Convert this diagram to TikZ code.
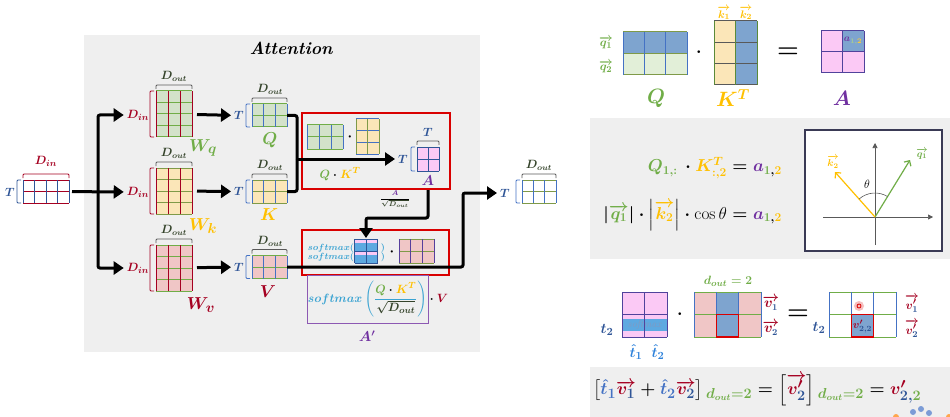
\documentclass[tikz,border=0pt]{standalone}
\usepackage{amsmath,bm}
\usetikzlibrary{arrows.meta,calc}

\definecolor{cgreen}{HTML}{70AD47}
\definecolor{cdgreen}{HTML}{34432A}
\definecolor{cyel}{HTML}{FFC000}
\definecolor{cred}{HTML}{A50021}
\definecolor{cblue}{HTML}{2F5597}
\definecolor{cline}{HTML}{4472C4}
\definecolor{cpurp}{HTML}{7030A0}
\definecolor{ccyan}{HTML}{3AA3D2}
\definecolor{fgreen}{HTML}{D3E2CA}
\definecolor{fyel}{HTML}{FBE6B8}
\definecolor{fpink}{HTML}{F0C6C6}
\definecolor{fmag}{HTML}{FBC9F5}
\definecolor{fblue}{HTML}{7EA4CF}
\definecolor{sblue}{HTML}{5DA9E1}
\definecolor{lgreen}{HTML}{E2EFD8}
\definecolor{boxred}{HTML}{D90000}
\definecolor{panel}{HTML}{EFEFEF}
\definecolor{brgray}{HTML}{595959}
\definecolor{olive}{HTML}{7F9A48}
\definecolor{navy}{HTML}{3A3A55}

\tikzset{
  arr/.style={line width=3pt, rounded corners=2pt, -{Triangle[length=10pt,width=13pt]}},
  conn/.style={line width=3pt, rounded corners=2pt},
  mtx/.style={draw=none, inner sep=0pt, outer sep=0pt},
  brk/.style={line width=0.8pt, rounded corners=1pt},
  lbl/.style={inner sep=0pt, font=\boldmath\fontsize{#1}{#1}\selectfont},
  lbl/.default=10,
  plain/.style={inner sep=0pt, font=\fontsize{#1}{#1}\selectfont},
  plain/.default=10,
  redbox/.style={draw=boxred, line width=2pt, inner sep=0pt},
}

% grid lines of a matrix node: name, width, height, cols, rows, vertical colour, horizontal colour
\newcommand{\gridlines}[7]{%
  \begin{scope}[shift={(#1.north west)}]
    \foreach \ii in {0,...,#5} \draw[#7, line width=1pt] (0,{\ii*#3/#5}) -- (#2,{\ii*#3/#5});
    \foreach \jj in {0,...,#4} \draw[#6, line width=1pt] ({\jj*#2/#4},0) -- ({\jj*#2/#4},#3);
  \end{scope}}
% filled matrix node with its grid: name, centre, width, height, cols, rows, fill, vertical colour, horizontal colour
\newcommand{\gmat}[9]{%
  \node[mtx, fill=#7, minimum width=#3pt, minimum height=#4pt] (#1) at (#2) {};
  \gridlines{#1}{#3}{#4}{#5}{#6}{#8}{#9}}
% brackets above and to the left of a matrix
\newcommand{\topbr}[2]{\draw[brk,#2] ([yshift=2pt]#1.north west) -- ([yshift=6pt]#1.north west) -- ([yshift=6pt]#1.north east) -- ([yshift=2pt]#1.north east);}
\newcommand{\leftbr}[2]{\draw[brk,#2] ([xshift=-2pt]#1.north west) -- ([xshift=-6pt]#1.north west) -- ([xshift=-6pt]#1.south west) -- ([xshift=-2pt]#1.south west);}

\begin{document}
\begin{tikzpicture}[x=1pt,y=-1pt]
\useasboundingbox (0,0) rectangle (950,417);
\fill[white] (0,0) rectangle (950,417);
\fill[panel] (84,35) rectangle (480,352);
\fill[panel] (590,118) rectangle (950,259);
\fill[panel] (590,367) rectangle (950,417);

\node[font=\bfseries\itshape\fontsize{17.5}{17.5}\selectfont, inner sep=0pt] (title) at (291,48) {Attention};

% ---------- input tokens ----------
\gmat{X}{46,191.5}{46}{23}{4}{2}{white}{cblue}{cred}
\topbr{X}{cred}
\leftbr{X}{cblue}
\node[lbl=12.5, text=cred] (dinx) at (46,161) {$D_{in}$};
\node[lbl=12, text=cblue] (tx) at (10,192) {$T$};

% ---------- query branch ----------
\gmat{Wq}{174,114}{36}{46}{3}{4}{fgreen}{cred}{cgreen}
\topbr{Wq}{brgray}
\leftbr{Wq}{cred}
\node[lbl=12, text=cdgreen] (dwq) at (174,76) {$D_{out}$};
\node[lbl=12.5, text=cred] (dinq) at (138,115) {$D_{in}$};
\node[lbl=19, text=cgreen] (wql) at (203,148) {$W_q$};

\gmat{Q}{269.5,115.5}{35}{23}{3}{2}{fgreen}{cline}{cgreen}
\topbr{Q}{brgray}
\leftbr{Q}{cline}
\node[lbl=12, text=cblue] (tq) at (239,115.5) {$T$};
\node[lbl=12, text=cdgreen] (dq) at (270,89) {$D_{out}$};
\node[lbl=18, text=cgreen] (ql) at (270,140) {$Q$};

% ---------- key branch ----------
\gmat{Wk}{174,191}{36}{46}{3}{4}{fyel}{cred}{olive}
\topbr{Wk}{brgray}
\leftbr{Wk}{cred}
\node[lbl=12, text=cdgreen] (dwk) at (174,153) {$D_{out}$};
\node[lbl=12.5, text=cred] (dink) at (138,192) {$D_{in}$};
\node[lbl=19, text=cyel] (wkl) at (203,226) {$W_k$};

\gmat{K}{269.5,191.5}{35}{23}{3}{2}{fyel}{cline}{olive}
\topbr{K}{brgray}
\leftbr{K}{cline}
\node[lbl=12, text=cblue] (tk) at (239,191.5) {$T$};
\node[lbl=12, text=cdgreen] (dk) at (270,165) {$D_{out}$};
\node[lbl=18, text=cyel] (kl) at (269,215) {$K$};

% ---------- value branch ----------
\gmat{Wv}{174,268}{36}{46}{3}{4}{fpink}{cred}{cgreen}
\topbr{Wv}{brgray}
\leftbr{Wv}{cred}
\node[lbl=12, text=cdgreen] (dwv) at (174,230) {$D_{out}$};
\node[lbl=12.5, text=cred] (dinv) at (138,268) {$D_{in}$};
\node[lbl=19, text=cred] (wvl) at (201,305) {$W_v$};

\gmat{V}{269.5,267}{35}{23}{3}{2}{fpink}{cline}{cgreen}
\topbr{V}{brgray}
\leftbr{V}{cline}
\node[lbl=12, text=cblue] (tv) at (239,267) {$T$};
\node[lbl=12, text=cdgreen] (dv) at (270,241) {$D_{out}$};
\node[lbl=18, text=cred] (vl) at (268,292) {$V$};

% ---------- input fan-out ----------
\coordinate (j) at (98,192);
\draw[arr, shorten <=3pt, shorten >=3pt] (X) -- (dink);
\draw[arr, shorten >=3pt] (j) |- (dinq);
\draw[arr, shorten >=3pt] (j) |- (dinv);
\draw[arr, shorten <=5pt, shorten >=3pt] (Wq) -- (tq);
\draw[arr, shorten <=5pt, shorten >=3pt] (Wk) -- (tk);
\draw[arr, shorten <=5pt, shorten >=3pt] (Wv) -- (tv);

% ---------- scores Q K^T ----------
\node[redbox, minimum width=148pt, minimum height=76pt] (rb1) at (376,151) {};
\gmat{Qs}{325,137}{36}{24}{3}{2}{fgreen}{cline}{cgreen}
\node[lbl=14] (dot1) at (350,137) {$\cdot$};
\gmat{Ks}{367.5,136.5}{23}{35}{2}{3}{fyel}{olive}{cline}
\node[lbl=13] (qkl) at (340,174) {$\color{cgreen}Q\color{black}\cdot\color{cyel}K^T$};

\gmat{A}{428,159}{22}{24}{2}{2}{fmag}{cblue}{cblue}
\topbr{A}{brgray}
\leftbr{A}{cline}
\node[lbl=12, text=cblue] (ta) at (403,159) {$T$};
\node[lbl=12, text=cblue] (tta) at (428,132) {$T$};
\node[lbl=14, text=cpurp] (al) at (428,181) {$A$};

\coordinate (qk) at (297,159);
\draw[conn] (Q) -| (qk);
\draw[conn] (K) -| (qk);
\draw[arr, shorten >=3pt] (qk) -- (ta);

\node[lbl=7.5] (scl) at (395,199) {$\dfrac{\color{cpurp}A}{\color{cdgreen}\sqrt{D_{out}}}$};

% ---------- softmax and weighting by V ----------
\node[redbox, minimum width=147pt, minimum height=45pt] (rb2) at (375.5,252.5) {};
\node[mtx, fill=sblue, minimum width=23pt, minimum height=24pt] (SM) at (366,251) {};
\fill[fmag] (SM.north west) rectangle ([yshift=-4pt]SM.north east);
\fill[fmag] (SM.west) rectangle ([yshift=-4pt]SM.east);
\gridlines{SM}{23}{24}{2}{2}{cblue}{cblue}
\node[lbl=9.5, text=ccyan, align=right] (smt) at (331,252.5) {$softmax($\\[0pt]$softmax($};
\node[lbl=9.5, text=ccyan, align=left] (smr) at (383,252.5) {$)$\\[0pt]$)$};
\node[lbl=14] (dot2) at (392,252) {$\cdot$};
\gmat{Vs}{416.5,251}{35}{24}{3}{2}{fpink}{cpurp!60!cblue}{olive}

\coordinate (bend) at (366,218);
\draw[arr, shorten >=1pt] (rb1.south -| al) |- (bend) -- (SM);

\node[draw=cpurp!80, line width=1pt, minimum width=121pt, minimum height=48pt, inner sep=0pt] (pb) at (367.5,299) {};
\node[lbl=12.5] (fml) at (378,299) {$\color{ccyan}softmax\left(\dfrac{\color{cgreen}Q\color{black}\cdot\color{cyel}K^T}{\color{cdgreen}\sqrt{D_{out}}}\right)\color{black}\cdot\color{cred}V$};
\node[lbl=14, text=cpurp] (apl) at (367,336) {$A'$};

% ---------- output ----------
\gmat{O}{539,191.5}{34}{23}{3}{2}{white}{cline}{olive}
\topbr{O}{brgray}
\leftbr{O}{cline}
\node[lbl=12, text=cdgreen] (dout) at (539,165) {$D_{out}$};
\node[lbl=12, text=cblue] (to) at (505,193) {$T$};
\coordinate (vup) at (463,193);
\draw[arr, shorten >=3pt] (V) -| (vup) -- (to);

% ---------- Q K^T = A, cell view ----------
\node[mtx, minimum width=64pt, minimum height=43pt] (Q2) at (655,53.5) {};
\fill[fblue] (Q2.north west) rectangle (Q2.east);
\fill[lgreen] (Q2.west) rectangle (Q2.south east);
\gridlines{Q2}{64}{43}{3}{2}{cline}{olive}
\node[lbl=13, text=cgreen] (q1t) at (606,43) {$\overrightarrow{q_1}$};
\node[lbl=13, text=cgreen] (q2t) at (606,67) {$\overrightarrow{q_2}$};
\node[lbl=16] (dot3) at (699,52) {$\cdot$};

\node[mtx, minimum width=43pt, minimum height=64pt] (K2) at (735.5,53) {};
\fill[fyel] (K2.north west) rectangle (K2.south);
\fill[fblue] (K2.north) rectangle (K2.south east);
\gridlines{K2}{43}{64}{2}{3}{cgreen!80!black}{brgray}
\node[lbl=11, text=cyel] (k1t) at (724,13) {$\overrightarrow{k_1}$};
\node[lbl=11, text=cyel] (k2t) at (746,13) {$\overrightarrow{k_2}$};
\node[lbl=28] (eqa) at (788,53) {$=$};

\node[mtx, fill=fmag, minimum width=43pt, minimum height=42pt] (A2) at (842.5,52) {};
\fill[fblue] (A2.north) rectangle (A2.east);
\gridlines{A2}{43}{42}{2}{2}{cpurp!50!cblue}{cpurp!50!cblue}
\node[lbl=10] (a12) at (853,41) {$\color{cpurp}a_{\color{cgreen!60}1,\color{cyel!80}2}$};

\node[lbl=21, text=cgreen] (q2l) at (656,98) {$Q$};
\node[lbl=21, text=cyel] (k2l) at (733,98) {$K^T$};
\node[lbl=21, text=cpurp] (a2l) at (842,98) {$A$};

% ---------- dot product as an angle ----------
\node[lbl=17, anchor=east] (e1) at (782,168) {$\color{cgreen}Q_{1,:}\,\color{black}\cdot\color{cyel}K^T_{:,2}\color{black}=\color{cpurp}a_{\color{cgreen}1\color{black},\color{cyel}2}$};
\node[lbl=18.5, anchor=east] (e2) at (782,215) {$|\color{cgreen}\overrightarrow{q_1}\color{black}|\cdot\left|\color{cyel}\overrightarrow{k_2}\color{black}\right|\cdot\text{\unboldmath$\cos\theta$}=\color{cpurp}a_{\color{cgreen}1\color{black},\color{cyel}2}$};

\node[draw=navy, line width=1.2pt, fill=white, minimum width=137pt, minimum height=121pt, inner sep=0pt] (vb) at (873.5,190.5) {};
\coordinate (vo) at (875,217);
\coordinate (ytop) at (875,143);
\coordinate (ybot) at (875,245);
\coordinate (xl) at (823,217);
\coordinate (xr) at (933,217);
\coordinate (q1e) at (910,160);
\coordinate (k2e) at (835,172);
\draw[-{Triangle[length=5pt,width=5pt]}, line width=0.7pt, brgray] (ybot) -- (ytop);
\draw[-{Triangle[length=5pt,width=5pt]}, line width=0.7pt, brgray] (xl) -- (xr);
\draw[-{Straight Barb[length=4pt,width=8pt]}, cgreen, line width=1.2pt] (vo) -- (q1e);
\draw[-{Straight Barb[length=4pt,width=8pt]}, cyel, line width=1.2pt] (vo) -- (k2e);
\draw[line width=0.6pt, brgray] (vo) ++(-58.4:24) arc[start angle=-58.4, end angle=-131.6, radius=24];
\node[plain=13] (thl) at (867,184) {$\theta$};
\node[lbl=10, text=cgreen] (q1v) at (922,154) {$\overrightarrow{q_1}$};
\node[lbl=10, text=cyel] (k2v) at (833,162) {$\overrightarrow{k_2}$};

% ---------- softmax row times V ----------
\node[mtx, fill=fmag, minimum width=45pt, minimum height=45pt] (P) at (644.5,314.5) {};
\node[mtx, fill=sblue, minimum width=45pt, minimum height=12pt, text=cblue!60, font=\itshape\fontsize{10}{10}\selectfont] (band) at (644.5,325) {softmax};
\gridlines{P}{45}{45}{2}{2}{cpurp!50!cblue}{cpurp!50!cblue}
\node[lbl=15, text=cblue] (t2a) at (607,330) {$t_2$};
\node[lbl=15, text=ccyan!80!blue] (th1) at (636,352) {$\hat{t}_1$};
\node[lbl=15, text=ccyan!80!blue] (th2) at (658,352) {$\hat{t}_2$};
\node[lbl=16] (dot4) at (680,314) {$\cdot$};

\node[mtx, fill=fpink, minimum width=67pt, minimum height=45pt] (V3) at (727.5,314.5) {};
\fill[fblue] ($(V3.north west)!1/3!(V3.north east)$) rectangle ($(V3.south west)!2/3!(V3.south east)$);
\gridlines{V3}{67}{45}{3}{2}{cline}{cgreen}
\draw[boxred, line width=1.6pt] ($(V3.west)!1/3!(V3.east)$) rectangle ($(V3.south west)!2/3!(V3.south east)$);
\node[lbl=13, text=cgreen] (dl) at (728,281) {$d_{out}=2$};
\node[lbl=13.5] (v1l) at (771,303) {$\color{cred}\overrightarrow{v_{\color{cblue}1}}$};
\node[lbl=13.5] (v2l) at (771,328) {$\color{cred}\overrightarrow{v_{\color{cblue}2}}$};
\node[lbl=28] (eqb) at (798,315) {$=$};

\node[mtx, fill=white, minimum width=67pt, minimum height=45pt] (R) at (862.5,314.5) {};
\fill[fblue] ($(R.west)!1/3!(R.east)$) rectangle ($(R.south west)!2/3!(R.south east)$);
\gridlines{R}{67}{45}{3}{2}{cline}{cgreen}
\draw[boxred, line width=1.6pt] ($(R.west)!1/3!(R.east)$) rectangle ($(R.south west)!2/3!(R.south east)$);
\node[lbl=11] (vp22) at (862.5,326.5) {$\color{cred}v'_{\color{cblue}2,2}$};
\node[circle, fill=boxred!25, minimum size=10pt, inner sep=0pt] (hl) at (859,306) {};
\node[circle, draw=boxred, line width=0.8pt, minimum size=4pt, inner sep=0pt] (hlc) at (859,306) {};
\node[lbl=15, text=cblue] (t2b) at (819,328) {$t_2$};
\node[lbl=13] (vp1) at (912,304) {$\color{cred}\overrightarrow{v'_{\color{cblue}1}}$};
\node[lbl=13] (vp2) at (912,329) {$\color{cred}\overrightarrow{v'_{\color{cblue}2}}$};

% ---------- weighted sum ----------
\node[lbl=19, anchor=west] (bf) at (593,390) {$\left[\color{cline}\hat t_1\color{cred}\overrightarrow{v_{\color{cblue}1}}\color{black}+\color{cline}\hat t_2\color{cred}\overrightarrow{v_{\color{cblue}2}}\color{black}\right]_{\color{cgreen}d_{out}=2}=\left[\color{cred}\overrightarrow{v'_{\color{cblue}2}}\color{black}\right]_{\color{cgreen}d_{out}=2}=\color{cred}v'_{\color{cblue}2,\color{cgreen}2}$};

% corner mark
\fill[orange!70] (896,417) circle (3);
\fill[cline!70] (913,412) circle (3);
\fill[cline!70] (921,409) circle (3);
\fill[cline!70] (929,413) circle (3);
\fill[orange!70] (949,417) circle (3);
\end{tikzpicture}
\end{document}
